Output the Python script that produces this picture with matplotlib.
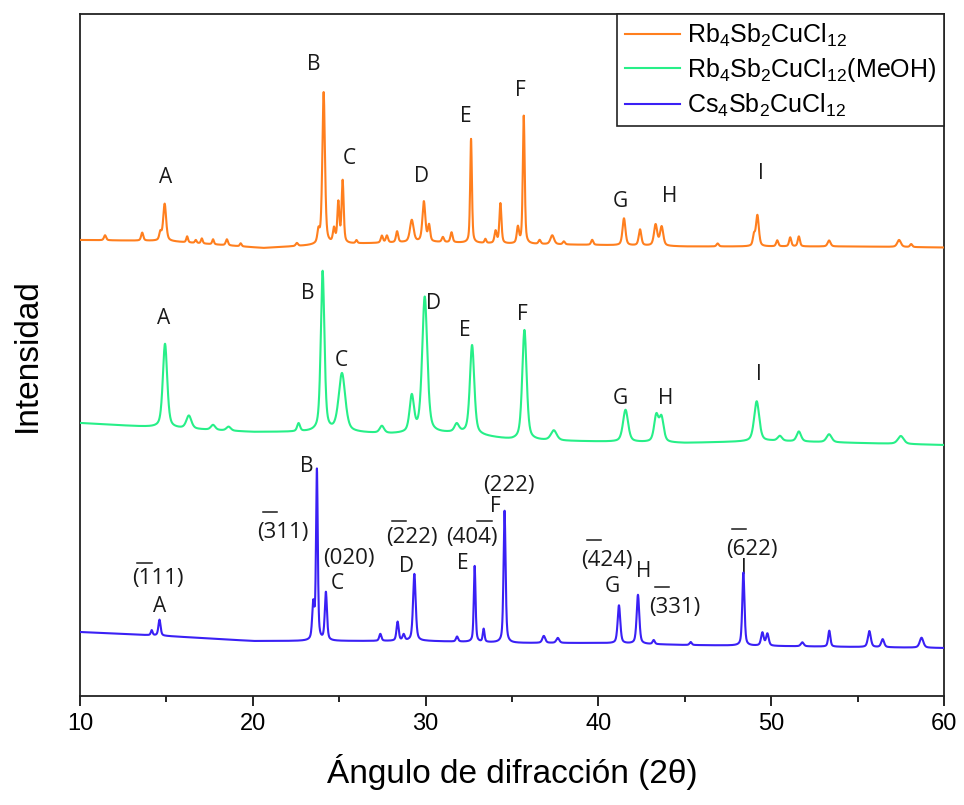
import numpy as np
import matplotlib
matplotlib.use("Agg")
import matplotlib.pyplot as plt
from matplotlib.lines import Line2D

plt.rcParams["mathtext.fontset"] = "custom"
plt.rcParams["mathtext.rm"] = "Liberation Sans"
plt.rcParams["mathtext.it"] = "Liberation Sans:italic"
plt.rcParams["mathtext.bf"] = "Liberation Sans:bold"

# ---------------------------------------------------------------- data
two_theta = np.linspace(10, 60, 5001)

# Rb4Sb2CuCl12 (stacked on top)
rb_base_x = [10, 15, 20.6, 25, 30, 35, 40, 45, 50, 55, 60]
rb_base_y = [456, 455, 448, 452, 454, 452, 451, 449.5, 449.5, 449.5, 448.5]
rb_pos = [11.45, 13.6, 14.65, 14.9, 16.2, 16.7, 17.05, 17.7, 18.5, 19.3, 22.55,
          23.8, 24.1, 24.7, 24.95, 25.2, 26.0, 27.47, 27.76, 28.35, 29.2, 29.9,
          30.2, 31.0, 31.5, 32.63, 33.46, 34.05, 34.33, 35.34, 35.68, 36.6,
          37.33, 38.0, 39.64, 41.48, 42.41, 43.31, 43.66, 46.9, 49.0, 49.2,
          50.35, 51.1, 51.6, 53.35, 57.4, 58.1]
rb_height = [5, 8, 8, 37, 6, 3, 5, 5, 6, 3, 3,
             12, 152, 14, 40, 62, 3, 7, 7, 11, 22, 40,
             16, 5, 10, 104, 4, 12, 40, 16, 128, 4,
             9, 3, 5, 27, 16, 21, 19, 3, 10, 31,
             6, 9, 10, 6, 7, 3]
rb_fwhm = [0.15, 0.15, 0.15, 0.2, 0.12, 0.12, 0.12, 0.12, 0.15, 0.12, 0.15,
           0.15, 0.18, 0.15, 0.14, 0.14, 0.12, 0.15, 0.15, 0.15, 0.25, 0.2,
           0.15, 0.15, 0.15, 0.12, 0.12, 0.15, 0.14, 0.15, 0.13, 0.15,
           0.25, 0.15, 0.15, 0.2, 0.18, 0.22, 0.22, 0.15, 0.15, 0.2,
           0.15, 0.15, 0.15, 0.2, 0.25, 0.15]

# Rb4Sb2CuCl12 (MeOH)
me_base_x = [10, 15, 20, 25, 28, 32, 35, 38, 45, 50, 55, 60]
me_base_y = [273, 268, 264, 264, 262, 263, 256, 255, 253, 255, 253, 251]
me_pos = [14.92, 16.3, 17.7, 18.6, 22.65, 24.04, 25.16, 27.47, 29.2, 29.95,
          31.8, 32.69, 35.72, 37.42, 41.57, 43.35, 43.65, 49.16, 50.5, 51.6,
          53.35, 57.5]
me_height = [84, 13, 5, 4, 8, 160, 58, 7, 36, 136,
             8, 89, 110, 10, 32, 26, 24, 40, 5, 10,
             8, 8]
me_fwhm = [0.3, 0.35, 0.3, 0.3, 0.2, 0.25, 0.45, 0.3, 0.3, 0.35,
           0.3, 0.3, 0.3, 0.4, 0.35, 0.3, 0.3, 0.35, 0.3, 0.3,
           0.35, 0.4]

# Cs4Sb2CuCl12 (bottom)
cs_base_x = [10, 15, 20, 25, 30, 35, 40, 45, 50, 55, 60]
cs_base_y = [64, 60, 55, 55, 55, 53, 53, 51, 50, 49, 48]
cs_pos = [14.15, 14.6, 23.5, 23.71, 24.23, 27.38, 28.38, 28.73, 29.35, 31.82,
          32.84, 33.36, 34.57, 36.84, 37.65, 41.19, 42.29, 43.2, 45.34, 48.39,
          49.49, 49.78, 51.8, 53.36, 55.68, 56.45, 58.7]
cs_height = [5, 16, 35, 170, 48, 7, 19, 6, 67, 5,
             76, 13, 132, 7, 5, 38, 49, 4, 3, 73,
             13, 12, 4, 16, 16, 8, 10]
cs_fwhm = [0.12, 0.15, 0.15, 0.12, 0.15, 0.15, 0.15, 0.15, 0.18, 0.15,
           0.12, 0.12, 0.14, 0.2, 0.2, 0.18, 0.18, 0.15, 0.15, 0.15,
           0.18, 0.18, 0.2, 0.15, 0.2, 0.2, 0.25]

series_names = [r"Rb$_4$Sb$_2$CuCl$_{12}$",
                r"Rb$_4$Sb$_2$CuCl$_{12}$(MeOH)",
                r"Cs$_4$Sb$_2$CuCl$_{12}$"]
series_colors = ["#ff7f1e", "#27ef88", "#3a20f5"]

# peak letters (text, 2θ, intensity)
rb_letters = [("A", 14.98, 518.7), ("B", 23.50, 631), ("C", 25.58, 537.7),
              ("D", 29.77, 519.3), ("E", 32.32, 579.3), ("F", 35.46, 606),
              ("G", 41.25, 494.3), ("H", 44.14, 499.3), ("I", 49.39, 522.7)]
me_letters = [("A", 14.82, 377.7), ("B", 23.17, 402.7), ("C", 25.14, 336),
              ("D", 30.45, 392.7), ("E", 32.28, 366), ("F", 35.61, 381),
              ("G", 41.29, 297.7), ("H", 43.89, 297.7), ("I", 49.31, 321)]
cs_letters = [("A", 14.59, 90), ("B", 23.14, 229), ("C", 24.89, 112.7),
              ("D", 28.91, 130), ("E", 32.18, 132.7), ("F", 34.02, 189.3),
              ("G", 40.83, 110), ("H", 42.64, 124.3)]

# Miller indices: (digits, index of barred digit or None, 2θ, baseline, bar rise in pt)
miller = [("111", 0, 14.48, 111.7, 15.5),
          ("311", 0, 21.73, 158.3, 18.5),
          ("020", None, 25.58, 131.7, 0),
          ("222", 0, 29.20, 153.3, 15.5),
          ("404", 2, 32.67, 153.3, 15.5),
          ("222", None, 34.83, 205, 0),
          ("424", 0, 40.48, 130, 19),
          ("331", 0, 44.41, 83.3, 18.5),
          ("622", 0, 48.87, 140.7, 19)]


def pattern(base_x, base_y, pos, height, fwhm, eta=0.5):
    y = np.interp(two_theta, base_x, base_y)
    for p, h, w in zip(pos, height, fwhm):
        u = (two_theta - p) / w
        lor = 1.0 / (1.0 + 4.0 * u ** 2)
        gau = np.exp(-4.0 * np.log(2.0) * u ** 2)
        y = y + h * (eta * lor + (1.0 - eta) * gau)
    return y


curves = [pattern(rb_base_x, rb_base_y, rb_pos, rb_height, rb_fwhm),
          pattern(me_base_x, me_base_y, me_pos, me_height, me_fwhm),
          pattern(cs_base_x, cs_base_y, cs_pos, cs_height, cs_fwhm)]

# ---------------------------------------------------------------- figure
fig = plt.figure(figsize=(9.64, 8.05), dpi=100)
ax = fig.add_axes([80 / 964, 1 - 696 / 805, 864 / 964, 682 / 805])

for curve, name, color in zip(curves, series_names, series_colors):
    ax.plot(two_theta, curve, color=color, lw=1.5, label=name, zorder=3)

ax.set_xlim(10, 60)
ax.set_ylim(0, 682)
ax.set_yticks([])
ax.set_xticks(np.arange(10, 61, 10))
ax.set_xticks(np.arange(15, 60, 10), minor=True)
ax.tick_params(axis="x", which="major", direction="out", length=7, width=1.2,
               pad=5, labelsize=17)
ax.tick_params(axis="x", which="minor", direction="out", length=4, width=1.2)
for lab in ax.get_xticklabels():
    lab.set_fontfamily("Liberation Sans")
for sp in ax.spines.values():
    sp.set_linewidth(1.3)
    sp.set_color("#222222")

ax.set_xlabel("Ángulo de difracción (2θ)", fontsize=24,
              fontfamily="Liberation Sans", labelpad=14)
ax.set_ylabel("Intensidad", fontsize=24, fontfamily="Liberation Sans",
              labelpad=27)

leg = ax.legend(loc="upper right", bbox_to_anchor=(1, 1), borderaxespad=0,
                fancybox=False, framealpha=1, edgecolor="#222222",
                handlelength=2.2, handletextpad=0.3,
                labelspacing=0.3, borderpad=0.3,
                prop={"family": "Liberation Sans", "size": 18})
leg.get_frame().set_linewidth(1.2)

letter_font = dict(fontsize=15, fontfamily="Open Sans", color="#1a1a1a",
                   ha="center", va="center")
for group in (rb_letters, me_letters, cs_letters):
    for txt, x, y in group:
        ax.text(x, y, txt, zorder=4, **letter_font)
# the "I" of the bottom pattern sits behind its peak
ax.text(48.45, 127, "I", zorder=2, **letter_font)

# Miller indices with overbars
renderer = fig.canvas.get_renderer()
mfont = dict(fontsize=16, fontfamily="Open Sans", color="#1a1a1a")
inv = ax.transAxes.inverted()
for digits, bar, x, y, rise in miller:
    s = "(" + digits + ")"
    t = ax.text(x, y, s, ha="center", va="baseline", zorder=4, **mfont)
    if bar is None:
        continue
    prop = t.get_fontproperties()
    w_all = renderer.get_text_width_height_descent(s, prop, ismath=False)[0]
    w_upto = renderer.get_text_width_height_descent(
        s[:bar + 2], prop, ismath=False)[0]
    w_dig = renderer.get_text_width_height_descent(
        digits[bar], prop, ismath=False)[0]
    cx, cy = ax.transData.transform((x, y))
    x1 = cx - w_all / 2 + w_upto + 1
    x0 = x1 - w_dig - 2
    yb = cy + rise * fig.dpi / 72
    (ax0, ay0), (ax1, _) = inv.transform([(x0, yb), (x1, yb)])
    ax.add_line(Line2D([ax0, ax1], [ay0, ay0], transform=ax.transAxes,
                       color="#1a1a1a", lw=1.1, clip_on=False, zorder=4))

fig.savefig("out.png", dpi=100)
